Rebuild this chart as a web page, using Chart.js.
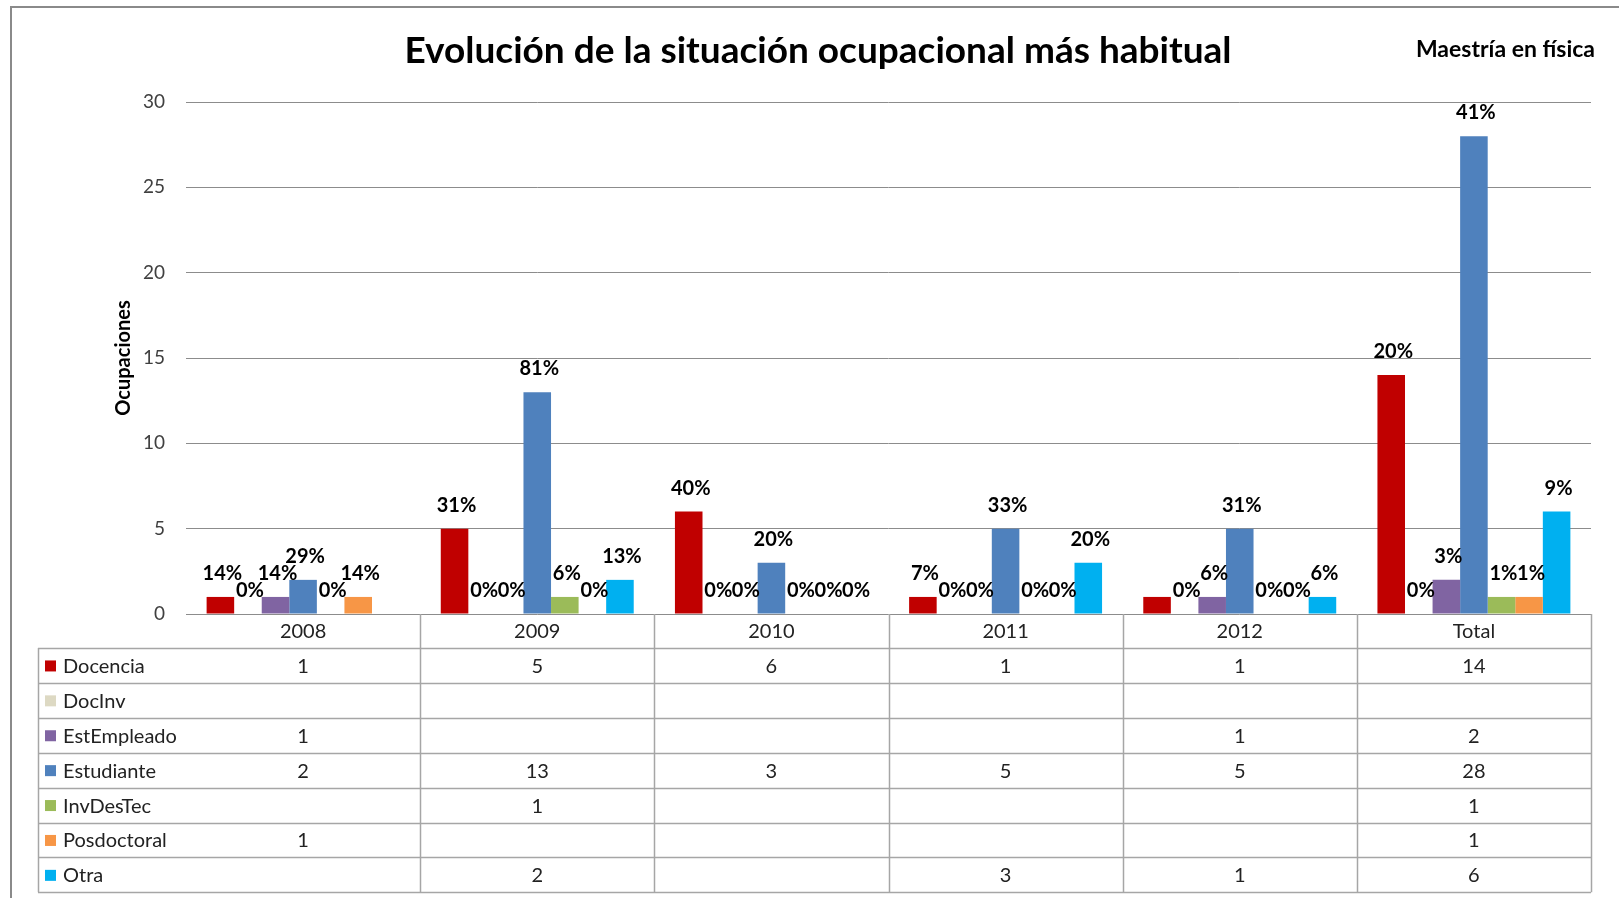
<!DOCTYPE html>
<html>
<head>
<meta charset="utf-8">
<script src="https://cdn.jsdelivr.net/npm/chart.js@4.4.0/dist/chart.umd.min.js"></script>
<style>
  html, body { margin: 0; padding: 0; background: #fff; }
  #wrap { width: 1619px; height: 898px; position: relative; }
</style>
</head>
<body>
<div id="wrap"><canvas id="chart"></canvas></div>
<script>
// --- data ---
const categories = ['2008', '2009', '2010', '2011', '2012', 'Total'];
const seriesNames = ['Docencia', 'DocInv', 'EstEmpleado', 'Estudiante', 'InvDesTec', 'Posdoctoral', 'Otra'];
const seriesColors = ['#C00000', '#DDD9C3', '#8064A2', '#4F81BD', '#9BBB59', '#F79646', '#00B0F0'];

// counts (0 = hidden zero, null = empty cell)
const docencia    = [1, 5, 6, 1, 1, 14];
const docInv      = [0, 0, 0, 0, 0, 0];
const estEmpleado = [1, 0, 0, 0, 1, 2];
const estudiante  = [2, 13, 3, 5, 5, 28];
const invDesTec   = [0, 1, 0, 0, 0, 1];
const posdoctoral = [1, 0, 0, 0, 0, 1];
const otra        = [null, 2, 0, 3, 1, 6];

// percentage labels shown over the bars
const docenciaPct    = ['14%', '31%', '40%', '7%', null, '20%'];
const docInvPct      = ['0%', '0%', '0%', '0%', '0%', '0%'];
const estEmpleadoPct = ['14%', '0%', '0%', '0%', '6%', '3%'];
const estudiantePct  = ['29%', '81%', '20%', '33%', '31%', '41%'];
const invDesTecPct   = ['0%', '6%', '0%', '0%', '0%', '1%'];
const posdoctoralPct = ['14%', '0%', '0%', '0%', '0%', '1%'];
const otraPct        = [null, '13%', '0%', '20%', '6%', '9%'];

const yTicks = [0, 5, 10, 15, 20, 25, 30];

const seriesValues = [docencia, docInv, estEmpleado, estudiante, invDesTec, posdoctoral, otra];
const seriesPct = [docenciaPct, docInvPct, estEmpleadoPct, estudiantePct, invDesTecPct, posdoctoralPct, otraPct];

const FONT = 'Lato, "Open Sans", sans-serif';

// --- frame, titles ---
const framePlugin = {
  id: 'frame',
  beforeDraw(chart) {
    const ctx = chart.ctx;
    ctx.save();
    ctx.fillStyle = '#fff';
    ctx.fillRect(0, 0, chart.width, chart.height);
    ctx.strokeStyle = '#8a8a8a';
    ctx.lineWidth = 2;
    ctx.strokeRect(11, 7, chart.width + 20, chart.height + 20);
    ctx.restore();
  },
  afterDraw(chart) {
    const ctx = chart.ctx;
    ctx.save();
    ctx.fillStyle = '#000';
    ctx.textBaseline = 'middle';
    ctx.textAlign = 'center';
    ctx.font = 'bold 37px ' + FONT;
    ctx.fillText('Evolución de la situación ocupacional más habitual', 818, 51);
    ctx.textAlign = 'right';
    ctx.font = 'bold 23px ' + FONT;
    ctx.fillText('Maestría en física', 1595, 50);
    ctx.restore();
  }
};

// --- percentage labels over each bar ---
const pctPlugin = {
  id: 'pctLabels',
  afterDatasetsDraw(chart) {
    const ctx = chart.ctx;
    ctx.save();
    ctx.font = 'bold 20px ' + FONT;
    ctx.fillStyle = '#000';
    ctx.textAlign = 'center';
    ctx.textBaseline = 'alphabetic';
    chart.data.datasets.forEach((ds, d) => {
      const meta = chart.getDatasetMeta(d);
      meta.data.forEach((bar, i) => {
        const txt = seriesPct[d][i];
        if (txt == null || ds.data[i] == null) return;
        ctx.fillText(txt, bar.x + 2, bar.y - 17);
      });
    });
    ctx.restore();
  }
};

// --- data table under the plot ---
const tablePlugin = {
  id: 'dataTable',
  afterDraw(chart) {
    const ctx = chart.ctx;
    const area = chart.chartArea;
    const xs = chart.scales.x;
    const colW = (area.right - area.left) / categories.length;
    const top = area.bottom;
    const headH = 34;
    const rowH = 34.9;
    const tableLeft = 38;
    const rowsTop = top + headH;
    const bottom = rowsTop + rowH * seriesNames.length;

    ctx.save();
    ctx.strokeStyle = '#a6a6a6';
    ctx.lineWidth = 1.5;
    ctx.beginPath();
    for (let k = 1; k <= categories.length; k++) {
      const x = Math.round(area.left + k * colW) + 0.5;
      ctx.moveTo(x, top);
      ctx.lineTo(x, bottom);
    }
    ctx.moveTo(tableLeft + 0.5, rowsTop);
    ctx.lineTo(tableLeft + 0.5, bottom);
    for (let r = 0; r <= seriesNames.length; r++) {
      const y = Math.round(rowsTop + r * rowH) + 0.5;
      ctx.moveTo(tableLeft, y);
      ctx.lineTo(area.right, y);
    }
    ctx.stroke();

    ctx.fillStyle = '#222';
    ctx.font = '20px ' + FONT;
    ctx.textBaseline = 'middle';
    ctx.textAlign = 'center';
    categories.forEach((c, i) => {
      ctx.fillText(c, xs.getPixelForValue(i), top + headH / 2 + 1);
    });

    seriesNames.forEach((name, r) => {
      const cy = rowsTop + r * rowH + rowH / 2 + 1;
      ctx.fillStyle = seriesColors[r];
      ctx.fillRect(45, cy - 6, 11, 11);
      ctx.fillStyle = '#222';
      ctx.textAlign = 'left';
      ctx.fillText(name, 63, cy);
      ctx.textAlign = 'center';
      seriesValues[r].forEach((v, i) => {
        if (v) ctx.fillText(String(v), xs.getPixelForValue(i), cy);
      });
    });
    ctx.restore();
  }
};

const ctx = document.getElementById('chart').getContext('2d');
new Chart(ctx, {
  type: 'bar',
  data: {
    labels: categories,
    datasets: seriesNames.map((name, d) => ({
      label: name,
      data: seriesValues[d],
      backgroundColor: seriesColors[d],
      borderWidth: 0,
      categoryPercentage: 0.824,
      barPercentage: 1.0
    }))
  },
  options: {
    responsive: true,
    maintainAspectRatio: false,
    animation: false,
    layout: { padding: { left: 0, top: 102, right: 28, bottom: 284 } },
    plugins: {
      legend: { display: false },
      tooltip: { enabled: false },
      title: { display: false }
    },
    scales: {
      x: { display: false },
      y: {
        min: 0,
        max: 30,
        afterFit(scale) { scale.width = 186; },
        afterBuildTicks(scale) { scale.ticks = yTicks.map(v => ({ value: v })); },
        border: { display: false },
        grid: { color: '#8c8c8c', lineWidth: 1, drawTicks: false },
        ticks: { color: '#404040', font: { family: FONT, size: 19 }, padding: 21 },
        title: {
          display: true,
          text: 'Ocupaciones',
          color: '#000',
          font: { family: FONT, size: 20, weight: 'bold' },
          padding: { top: 112, bottom: 0 }
        }
      }
    }
  },
  plugins: [framePlugin, pctPlugin, tablePlugin]
});
</script>
</body>
</html>
